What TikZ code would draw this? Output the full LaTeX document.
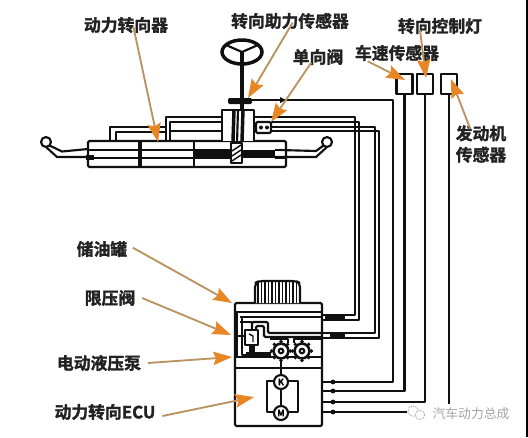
\documentclass[tikz,border=0pt]{standalone}
\usepackage{fontspec}
\newfontfamily\cjk{Noto Sans CJK SC}[BoldFont={Noto Sans CJK SC Bold},BoldFeatures={FakeBold=1.6}]
\usetikzlibrary{arrows.meta}
\definecolor{shaftc}{RGB}{186,148,96}
\definecolor{headc}{RGB}{232,134,36}
\definecolor{inkc}{RGB}{16,16,16}
\definecolor{labelc}{RGB}{34,34,34}
\definecolor{markc}{RGB}{165,165,165}
\tikzset{
  pipe/.style={draw=inkc,line width=1.6pt,line join=round},
  fine/.style={draw=inkc,line width=1.1pt,line join=round},
  heavy/.style={draw=inkc,line width=2.6pt},
  solid part/.style={fill=inkc,draw=none},
  lbl/.style={font=\cjk\bfseries\fontsize{12.6}{14}\selectfont,text=labelc,inner sep=0pt},
  callout/.style={draw=shaftc,line width=1.4pt,-{Stealth[length=14pt,width=10pt,inset=2pt,color=headc]}},
  wmark/.style={font=\cjk\fontsize{9.6}{11}\selectfont,text=markc,inner sep=0pt},
}
\begin{document}
\begin{tikzpicture}[x=0.75pt,y=-0.75pt]
\useasboundingbox (0,0) rectangle (528,437);
\fill[white] (0,0) rectangle (528,437);
\fill[black] (526,0) rectangle (528,437);

% ---------- steering wheel and column
\draw[draw=inkc,line width=2.6pt] (242,52) ellipse (20 and 12);
\draw[pipe] (242,52) -- (226,45) (242,52) -- (258,45);
\draw[heavy] (242,52) -- (242,110);
\fill[solid part,rounded corners=1pt] (228,98) rectangle (252,104);

% ---------- rack housing
\draw[pipe,rounded corners=1pt] (88,141) rectangle (286,167);
\draw[pipe] (88,150) -- (230,150) (88,158) -- (230,158);
\draw[heavy] (140,141) -- (140,167);
\draw[pipe] (194,141) -- (194,167);
\fill[solid part] (194,150) rectangle (232,158);
\fill[solid part] (243,150) rectangle (275,158);
\draw[pipe] (275,150) -- (286,150) (275,158) -- (286,158);
\draw[pipe,fill=white] (231,143) rectangle (242,163);
\foreach \yy in {147,152,157}{\draw[fine] (232,\yy+4) -- (241,\yy-2);}

% ---------- tie rods
\draw[pipe,fill=white] (46,142) circle (5);
\draw[pipe] (49.5,145.5) -- (62,151.5) -- (88,149);
\draw[pipe] (46,147) -- (57,157) -- (92,157);
\fill[solid part] (86,155) rectangle (94,160);
\draw[pipe,fill=white] (327,142) circle (5);
\draw[pipe] (323.5,145.5) -- (316,151) -- (280,150);
\draw[pipe] (327,147) -- (316,157) -- (275,157);

% ---------- valve housing over the rack
\draw[pipe,fill=white] (222,141) -- (222,110) -- (254,110) -- (254,141);
\draw[heavy] (234,110) -- (233,141);
\draw[heavy] (243,110) -- (242,141);
\draw[pipe] (238,110) -- (237,143);

% ---------- pipes to the rack
\draw[pipe] (222,117) -- (166,117) -- (166,141);
\draw[pipe] (222,122) -- (170,122) -- (170,141);
\draw[pipe] (222,131) -- (170,131);
\draw[pipe] (166,127) -- (110,127) -- (110,141);
\draw[pipe] (166,132) -- (116,132) -- (116,141);
\draw[pipe] (166,136) -- (166,141) -- (158,141);

% ---------- check valve
\draw[pipe,fill=white,rounded corners=1pt] (256,122) rectangle (271,133);
\fill[solid part] (261,127.5) circle (2);
\fill[solid part] (267,127.5) circle (2);

% ---------- pipes from the steering gear to the pump
\draw[pipe] (254,117) -- (355,117) -- (355,315) -- (323,315);
\draw[pipe] (271,122) -- (359,122) -- (359,320) -- (323,320);
\draw[pipe] (271,127) -- (375,127) -- (375,333) -- (323,333);
\draw[pipe] (271,131) -- (379,131) -- (379,338) -- (323,338);
\fill[solid part] (325,315.5) rectangle (345,319.5);
\fill[solid part] (330,334) rectangle (345,337.5);

% ---------- sensor line with arrow
\coordinate (sensorline) at (252,100);
\draw[pipe] (sensorline) -- (393,100) -- (393,382) -- (323,382);
\fill[solid part] (286,100) -- (280,97) -- (280,103) -- cycle;

% ---------- sensor boxes
\node[pipe,minimum width=12pt,minimum height=15pt,inner sep=0pt] (boxa) at (404.5,84) {};
\node[pipe,minimum width=12pt,minimum height=15pt,inner sep=0pt] (boxb) at (425,84) {};
\node[pipe,minimum width=12pt,minimum height=15pt,inner sep=0pt] (boxc) at (449,84) {};

% ---------- pump unit
\draw[pipe] (boxa.south) |- (323,391);
\draw[pipe] (boxb.south) |- (323,402);
\draw[pipe] (boxc.south) |- (323,412);
\foreach \yy in {382,391,402,412}{\fill[solid part] (333,\yy) circle (2.4);}
\draw[pipe,fill=white,rounded corners=1pt] (235,303) rectangle (322,426);
\draw[pipe] (235,312) -- (322,312);
\draw[pipe] (235,357) -- (322,357);
\draw[pipe] (235,368) -- (322,368);

% knob
\draw[pipe,fill=white,rounded corners=3pt] (255,303) -- (255,283) -- (259,281) -- (296,281) -- (300,283) -- (300,303);
\foreach \xx in {258,261.5,...,298}{\draw[fine] (\xx,282) -- (\xx,303);}

% walls and inner pipes
\draw[heavy] (236.5,312) -- (236.5,357);
\draw[pipe] (240,317) -- (322,317);
\draw[pipe] (242,317) -- (242,355) -- (250,355);
\draw[pipe] (240,322) -- (252,322);

% pressure limit valve
\draw[pipe,rounded corners=1pt] (252,330) -- (252,322) -- (268,322) -- (268,333) -- (322,333);
\draw[pipe,rounded corners=1pt] (256,330) -- (256,326) -- (264,326) -- (264,337) -- (322,337);
\draw[pipe,fill=white] (245,330) rectangle (258,345);
\draw[fine] (249,334) -- (253,336) -- (253,342);
\draw[pipe] (238,336) -- (245,336);
\fill[solid part] (249,345) rectangle (255,354);
\fill[solid part] (246,352) rectangle (271,356);

% gears
\draw[pipe] (288,343) -- (288,339) -- (270,339);
\draw[pipe] (294,343) -- (294,339) -- (322,339);
\foreach \cx in {281,302}{
  \foreach \ang in {0,45,...,315}{
    \fill[inkc] (\cx,351) ++(\ang:9.4) circle (1.9);
  }
  \draw[draw=inkc,line width=1.9pt,fill=white] (\cx,351) circle (7.4);
  \draw[pipe] (\cx,351) circle (2.3);
}

% motor and controller
\draw[pipe] (281,361) -- (281,375) (281,389) -- (281,406);
\draw[pipe] (274,381) -- (267,381) -- (267,412) -- (274,412);
\draw[pipe] (288,381) -- (298,381) -- (298,412) -- (288,412);
\node[pipe,circle,minimum size=10.5pt,inner sep=0pt,font=\cjk\bfseries\fontsize{6.5}{7}\selectfont] (kcirc) at (281,382) {K};
\node[pipe,circle,minimum size=10.5pt,inner sep=0pt,font=\cjk\bfseries\fontsize{6.5}{7}\selectfont] (mcirc) at (281,413) {M};

% ---------- labels
\node[lbl] (l1) at (126,25) {动力转向器};
\node[lbl] (l2) at (290,21) {转向助力传感器};
\node[lbl] (l3) at (318,57) {单向阀};
\node[lbl] (l4) at (440,26) {转向控制灯};
\node[lbl] (l5) at (397,53) {车速传感器};
\node[lbl,align=center] (l6) at (481,144) {发动机\\[2pt]传感器};
\node[lbl] (l7) at (102,249) {储油罐};
\node[lbl] (l8) at (110,298) {限压阀};
\node[lbl] (l9) at (99,363) {电动液压泵};
\node[lbl] (l10) at (105,412) {动力转向ECU};

% ---------- callouts
\coordinate (t1) at (158,142);
\coordinate (t2) at (248,98);
\coordinate (t3) at (271,122);
\coordinate (t4) at (405,80);
\coordinate (t5) at (426,78);
\coordinate (t6) at (451,79);
\coordinate (t7) at (232,303);
\coordinate (t8) at (231,335);
\coordinate (t9) at (232,357);
\coordinate (t10) at (254,397);
\draw[callout] ([xshift=5.5,yshift=5]l1.south) -- (t1);
\draw[callout] ([xshift=2,yshift=5]l2.south) -- (t2);
\draw[callout] ([xshift=-5,yshift=2]l3.south) -- (t3);
\draw[callout] ([xshift=-22,yshift=0]l5.south) -- (t4);
\draw[callout] ([xshift=-15,yshift=3]l4.south) -- (t5);
\draw[callout] ([xshift=-8,yshift=-3]l6.north) -- (t6);
\draw[callout] ([xshift=4,yshift=1]l7.east) -- (t7);
\draw[callout] ([xshift=5,yshift=0]l8.east) -- (t8);
\draw[callout] ([xshift=5,yshift=0]l9.east) -- (t9);
\draw[callout] ([xshift=5,yshift=-3]l10.east) -- (t10);

% ---------- watermark
\fill[white] (407,404) rectangle (512,422);
\draw[markc,line width=0.6pt,dash pattern=on 1pt off 0.8pt] (413,411) circle (5.2);
\draw[markc,line width=0.6pt,dash pattern=on 1pt off 0.8pt,fill=white] (420,415) circle (4.6);
\node[wmark] (wm) at (471,414) {汽车动力总成};
\end{tikzpicture}
\end{document}
